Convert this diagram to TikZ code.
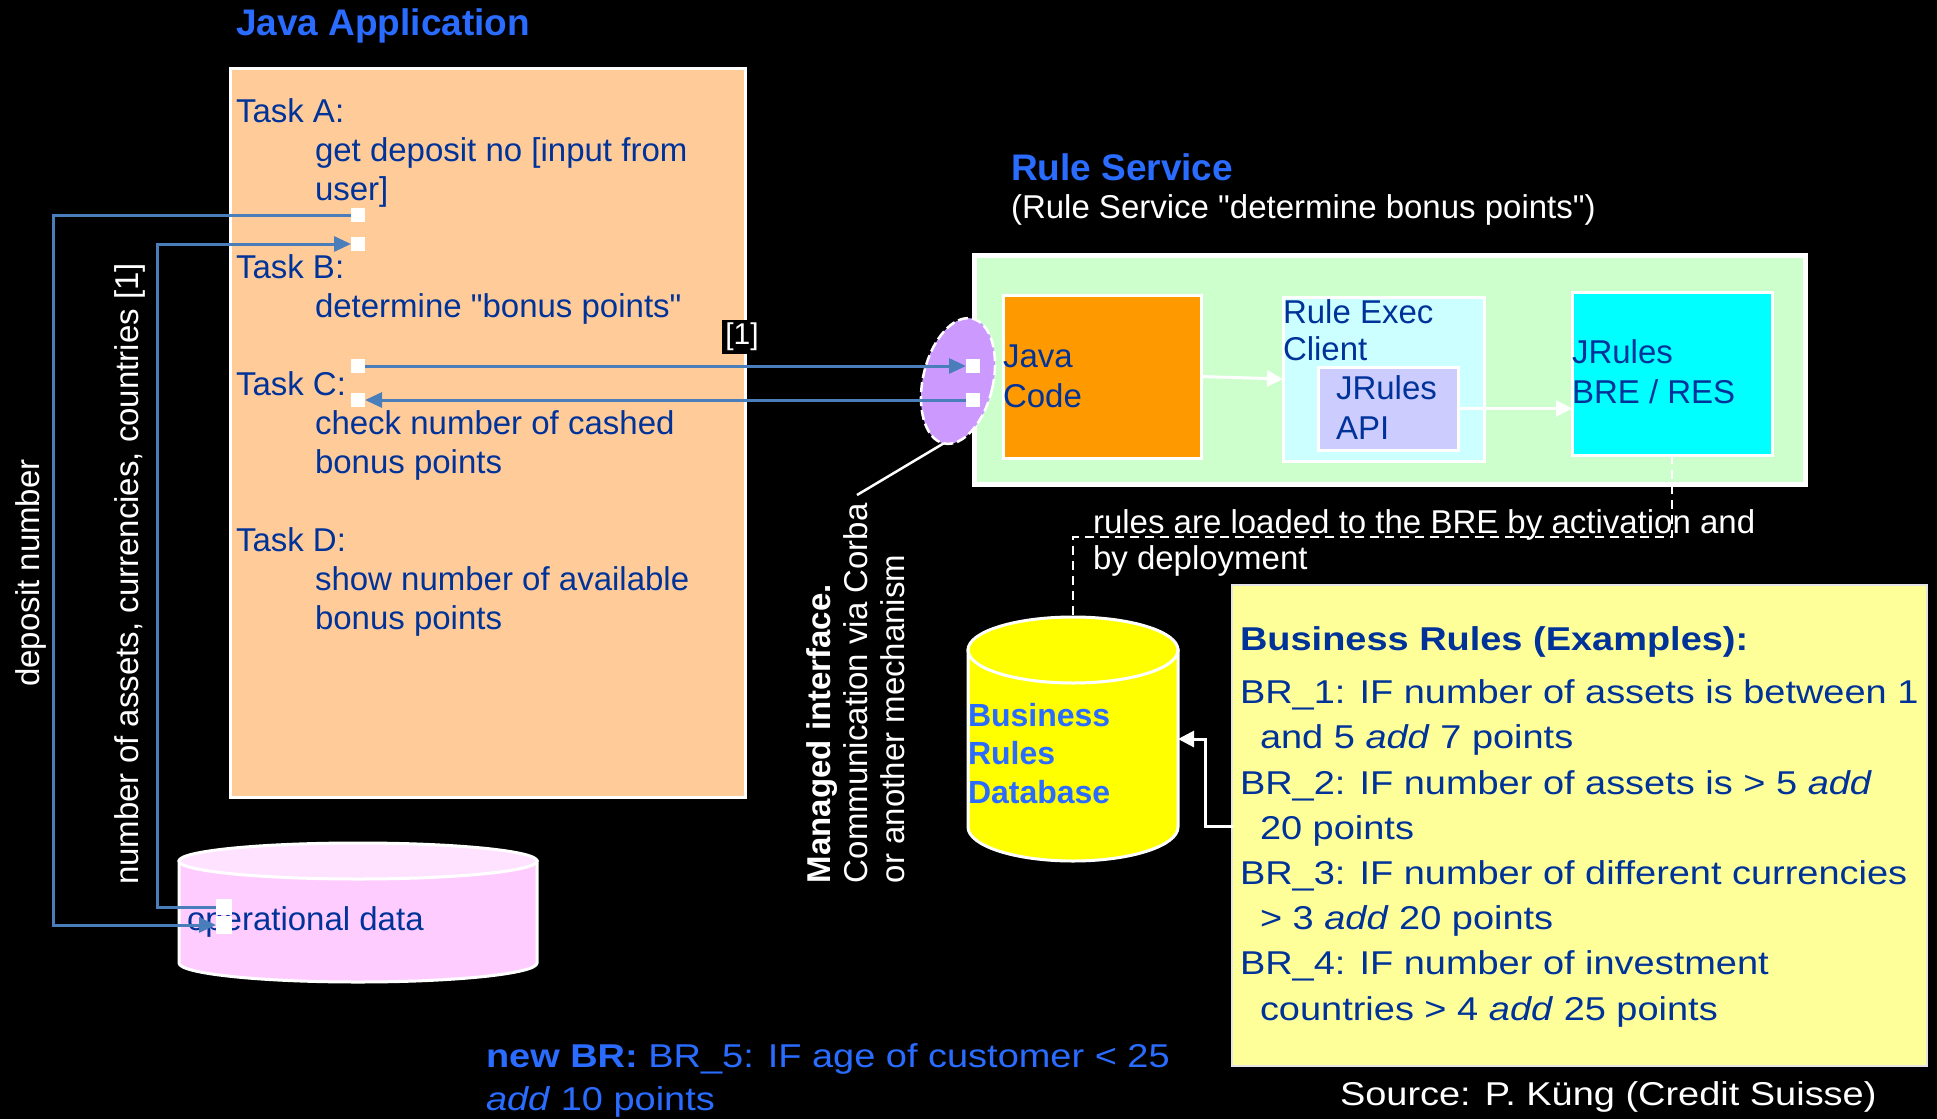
\documentclass[tikz,border=0pt]{standalone}
\usepackage{fontspec}
\setmainfont{Liberation Sans}[Ligatures=TeXOff]
\newfontfamily\widesans[FakeStretch=1.15]{Liberation Sans}
\usetikzlibrary{arrows.meta,shapes.geometric,calc}
\definecolor{navy}{RGB}{0,51,153}
\definecolor{tblue}{RGB}{41,108,255}
\definecolor{peach}{RGB}{255,204,153}
\definecolor{lgreen}{RGB}{204,255,204}
\definecolor{orangeb}{RGB}{255,153,0}
\definecolor{lcyan}{RGB}{204,255,255}
\definecolor{lav}{RGB}{204,204,255}
\definecolor{cyanb}{RGB}{0,255,255}
\definecolor{purp}{RGB}{204,153,255}
\definecolor{pinkc}{RGB}{255,204,255}
\definecolor{pinktop}{RGB}{255,226,255}
\definecolor{yelc}{RGB}{255,255,0}
\definecolor{lyel}{RGB}{255,255,153}
\definecolor{lineblue}{RGB}{74,126,187}
\tikzset{
  every node/.style={inner sep=0pt, outer sep=0pt},
  txt/.style={anchor=base west, align=left, text=navy, font=\fontsize{33}{39}\selectfont},
  wtxt/.style={anchor=base west, align=left, text=white, font=\fontsize{33}{36}\selectfont},
  btitle/.style={anchor=base west, text=tblue, font=\fontsize{37}{44}\selectfont\bfseries},
  boxw/.style={draw=white, line width=3pt},
  sq/.style={fill=white, minimum width=14pt, minimum height=14pt},
  conn/.style={draw=lineblue, line width=3pt},
  bluetip/.style={-{Triangle[length=17pt,width=15pt]}},
  warrow/.style={draw=white, line width=3pt, -{Triangle[length=16pt,width=16pt]}},
  cylline/.style={draw=white, line width=3pt},
}
\begin{document}
\begin{tikzpicture}[x=1pt,y=-1pt]
\fill[black] (0,0) rectangle (1937,1119);
\path[use as bounding box] (0,0) rectangle (1937,1119);

% Java application (multi-line nodes: base = last line's baseline)
\node[btitle] (t1) at (236,35) {Java Application};
\node[boxw, fill=peach, minimum width=515pt, minimum height=729pt] (app) at (487.5,432.5) {};
\node[txt] (apptext) at (236,629) {Task A:\\\hspace*{79pt}get deposit no [input from\\\hspace*{79pt}user]\\[39pt]Task B:\\\hspace*{79pt}determine "bonus points"\\[39pt]Task C:\\\hspace*{79pt}check number of cashed\\\hspace*{79pt}bonus points\\[39pt]Task D:\\\hspace*{79pt}show number of available\\\hspace*{79pt}bonus points};

% operational data cylinder
\path[cylline, fill=pinkc] (179,861) -- (179,963) arc[start angle=180, end angle=360, x radius=179pt, y radius=19pt] -- (537,861) -- cycle;
\draw[cylline, fill=pinktop] (358,861) ellipse [x radius=179pt, y radius=18pt];
\node[txt] (optext) at (187,930) {operational data};
\node[sq, minimum width=16pt, minimum height=16pt] (opout) at (224,907) {};
\node[sq, minimum width=16pt, minimum height=18pt] (opin) at (224,925) {};

% connection squares
\node[sq] (sqA) at (358,215) {};
\node[sq] (sqB) at (358,244) {};
\node[sq] (sqC1) at (358,366) {};
\node[sq] (sqC2) at (358,400) {};

% Rule service
\node[btitle] (t2) at (1011,180) {Rule Service};
\node[wtxt] (t2sub) at (1011,218) {(Rule Service "determine bonus points")};
\node[draw=white, line width=5pt, fill=lgreen, minimum width=831pt, minimum height=229pt] (rs) at (1389.5,369.5) {};
\node[boxw, fill=orangeb, minimum width=198pt, minimum height=163pt] (jc) at (1102,376.5) {};
\node[boxw, fill=lcyan, minimum width=201pt, minimum height=164pt] (rec) at (1383.5,379) {};
\node[boxw, fill=lav, minimum width=140pt, minimum height=83pt] (api) at (1388,408.5) {};
\node[boxw, fill=cyanb, minimum width=200pt, minimum height=163pt] (bre) at (1672,373.5) {};
\node[txt, font=\fontsize{33}{40}\selectfont] (jctext) at (1003,407) {Java\\Code};
\node[txt, font=\fontsize{33}{37}\selectfont] (rectext) at (1283,360) {Rule Exec\\Client};
\node[txt, font=\fontsize{33}{40}\selectfont] (apitext) at (1336,439) {JRules\\API};
\node[txt, font=\fontsize{33}{40}\selectfont] (bretext) at (1572,403) {JRules\\BRE / RES};
\draw[warrow] (jc.east) -- (rec.west);
\draw[warrow] (api.east) -- (api.east -| bre.west);

% managed interface
\node[ellipse, draw=white, dash pattern=on 10pt off 4pt, line width=2.5pt, fill=purp, minimum width=70pt, minimum height=128pt, rotate=-13] (iface) at (958,381) {};
\node[sq] (sqD1) at (973,366) {};
\node[sq] (sqD2) at (973,400) {};

% connectors
\coordinate (xdep) at (53,0);
\coordinate (xnum) at (157,0);
\draw[conn, bluetip] (sqA.west) -- (sqA.west -| xdep) -- (xdep |- opin.west) -- (opin.west);
\draw[conn, bluetip] (opout.west) -- (opout.west -| xnum) -- (xnum |- sqB.west) -- (sqB.west);
\draw[conn, bluetip] (sqC1.east) -- (sqD1.west);
\draw[conn, bluetip] (sqD2.west) -- (sqC2.east);
\node[fill=black, text=white, inner sep=3pt, font=\fontsize{30}{30}\selectfont] (ref1) at (742,337) {[1]};

% rotated labels
\node[rotate=90, text=white, font=\fontsize{33}{39}\selectfont] (ldep) at (31,573) {deposit number};
\node[rotate=90, text=white, font=\fontsize{33}{39}\selectfont] (lnum) at (130,574) {number of assets, currencies, countries [1]};
\node[rotate=90, anchor=base west, align=left, text=white, font=\fontsize{33}{37}\selectfont] (mtext) at (904,883) {\textbf{Managed interface.}\\Communication via Corba\\or another mechanism};
\coordinate (mtip) at (857,495);
\draw[white, line width=2.5pt] (iface.south) -- (mtip);

% business rules database
\path[cylline, fill=yelc] (968,650) -- (968,827) arc[start angle=180, end angle=360, x radius=105pt, y radius=34pt] -- (1178,650) -- cycle;
\draw[cylline, fill=yelc] (1073,650) ellipse [x radius=105pt, y radius=33pt];
\node[minimum width=210pt, minimum height=244pt] (bdb) at (1073,739) {};
\node[anchor=base west, align=left, text=tblue, font=\fontsize{32}{38.5}\selectfont\bfseries] (dbtext) at (968,803) {Business\\Rules\\Database};

\node[wtxt] (rtext) at (1093,569) {rules are loaded to the BRE by activation and\\by deployment};
\draw[white, line width=2.5pt, dash pattern=on 9pt off 6pt] (bre.south) -- ++(0,82) -| (bdb.north);

% business rules box
\node[draw=white!80!gray, line width=2pt, fill=lyel, minimum width=695pt, minimum height=481pt] (brbox) at (1579.5,825.5) {};
\node[txt, font=\widesans\fontsize{33}{45.2}\selectfont] (brtext) at (1240,1020) {\textbf{Business Rules (Examples):}\\[7.8pt]BR\_1: IF number of assets is between 1\\\hspace*{20pt}and 5 \textit{add} 7 points\\BR\_2: IF number of assets is > 5 \textit{add}\\\hspace*{20pt}20 points\\BR\_3: IF number of different currencies\\\hspace*{20pt}> 3 \textit{add} 20 points\\BR\_4: IF number of investment\\\hspace*{20pt}countries > 4 \textit{add} 25 points};
\coordinate (brin) at (1233,826);
\draw[warrow] (brin) -- ++(-28,0) |- (bdb.east);

% bottom texts
\node[anchor=base west, align=left, text=tblue, font=\widesans\fontsize{33}{43}\selectfont] (newbr) at (486,1110) {\textbf{new BR:} BR\_5: IF age of customer < 25\\\textit{add} 10 points};
\node[anchor=base west, text=white, font=\widesans\fontsize{33}{40}\selectfont] (src) at (1340,1105) {Source: P. Küng (Credit Suisse)};
\end{tikzpicture}
\end{document}
